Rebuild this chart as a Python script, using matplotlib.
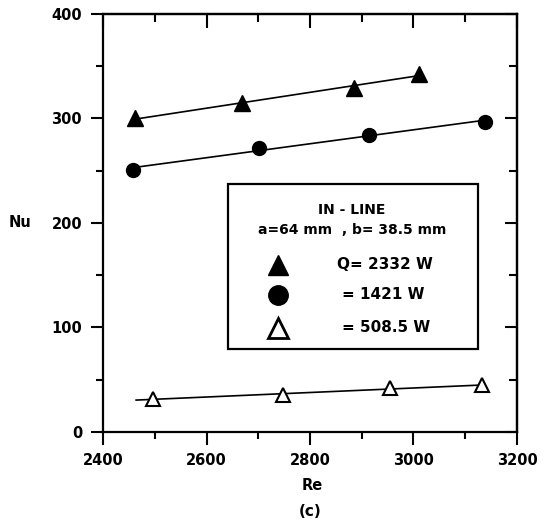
import numpy as np
import matplotlib
matplotlib.use("Agg")
import matplotlib.pyplot as plt
from matplotlib.patches import Rectangle
from matplotlib.ticker import MultipleLocator

plt.rcParams['font.family'] = ['DejaVu Sans']
plt.rcParams['font.weight'] = 'bold'

# data
re_2332 = [2462, 2669, 2885, 3011]
nu_2332 = [300, 315, 329, 343]

re_1421 = [2458, 2701, 2914, 3138]
nu_1421 = [251, 272, 284, 297]

re_508 = [2497, 2748, 2955, 3133]
nu_508 = [32, 35, 42, 45]

# span of each fitted line
fit_span = {
    "2332": (2462, 3011),
    "1421": (2458, 3138),
    "508": (2464, 3133),
}

legend_labels = ["Q= 2332 W", "= 1421 W", "= 508.5 W"]


def fit_line(ax, re, nu, span):
    k, b = np.polyfit(re, nu, 1)
    xs = np.array(span)
    ax.plot(xs, k * xs + b, color='black', lw=1.2, zorder=2)


fig = plt.figure(figsize=(5.45, 5.24), dpi=100)
ax = fig.add_axes([0.189, 0.1756, 0.7596, 0.7977])

fit_line(ax, re_2332, nu_2332, fit_span["2332"])
fit_line(ax, re_1421, nu_1421, fit_span["1421"])
fit_line(ax, re_508, nu_508, fit_span["508"])

ax.plot(re_2332, nu_2332, '^', color='black', ms=11, ls='none', zorder=3)
ax.plot(re_1421, nu_1421, 'o', color='black', ms=10, ls='none', zorder=3)
ax.plot(re_508, nu_508, '^', mfc='white', mec='black', mew=1.5, ms=10, ls='none', zorder=3)

ax.set_xlim(2400, 3200)
ax.set_ylim(0, 400)
ax.xaxis.set_major_locator(MultipleLocator(200))
ax.xaxis.set_minor_locator(MultipleLocator(100))
ax.yaxis.set_major_locator(MultipleLocator(100))
ax.yaxis.set_minor_locator(MultipleLocator(50))

for s in ax.spines.values():
    s.set_linewidth(1.6)

# bottom/left ticks outward, top/right inward
ax.tick_params(which='both', width=1.5, direction='out', labelsize=10.5, pad=6)
ax.tick_params(which='major', length=9)
ax.tick_params(which='minor', length=5)
sec_x = ax.secondary_xaxis('top')
sec_x.xaxis.set_major_locator(MultipleLocator(200))
sec_x.xaxis.set_minor_locator(MultipleLocator(100))
sec_x.tick_params(which='both', direction='in', width=1.5, labeltop=False)
sec_x.tick_params(which='major', length=10)
sec_x.tick_params(which='minor', length=6)
sec_x.spines['top'].set_linewidth(1.6)
sec_y = ax.secondary_yaxis('right')
sec_y.yaxis.set_major_locator(MultipleLocator(100))
sec_y.yaxis.set_minor_locator(MultipleLocator(50))
sec_y.tick_params(which='both', direction='in', width=1.5, labelright=False)
sec_y.tick_params(which='major', length=9)
sec_y.tick_params(which='minor', length=6)
sec_y.spines['right'].set_linewidth(1.6)

ax.set_xlabel("Re", fontsize=10.5, fontweight='bold', va='center')
ax.xaxis.set_label_coords(0.505, -0.127)
ax.set_ylabel("Nu", fontsize=10.5, fontweight='bold', rotation=0, va='center', ha='center')
ax.yaxis.set_label_coords(-0.200, 0.502)
fig.text(0.569, 0.023, "(c)", ha='center', va='center', fontsize=11, fontweight='bold')

# legend box
ax.add_patch(Rectangle((0.302, 0.199), 0.604, 0.394, transform=ax.transAxes,
                       fill=False, ec='black', lw=1.6, zorder=4))
ax.text(0.601, 0.531, "IN - LINE", transform=ax.transAxes, ha='center', va='center',
        fontsize=10, fontweight='bold')
ax.text(0.601, 0.483, "a=64 mm  , b= 38.5 mm", transform=ax.transAxes, ha='center', va='center',
        fontsize=10, fontweight='bold')

ax.plot([0.423], [0.400], '^', color='black', ms=15, transform=ax.transAxes, clip_on=False)
ax.plot([0.423], [0.328], 'o', color='black', ms=14, transform=ax.transAxes, clip_on=False)
ax.plot([0.423], [0.249], '^', mfc='white', mec='black', mew=2, ms=14,
        transform=ax.transAxes, clip_on=False)

ax.text(0.565, 0.400, legend_labels[0], transform=ax.transAxes, ha='left', va='center',
        fontsize=11, fontweight='bold')
ax.text(0.577, 0.328, legend_labels[1], transform=ax.transAxes, ha='left', va='center',
        fontsize=11, fontweight='bold')
ax.text(0.577, 0.249, legend_labels[2], transform=ax.transAxes, ha='left', va='center',
        fontsize=11, fontweight='bold')

fig.savefig("out.png", dpi=100)
